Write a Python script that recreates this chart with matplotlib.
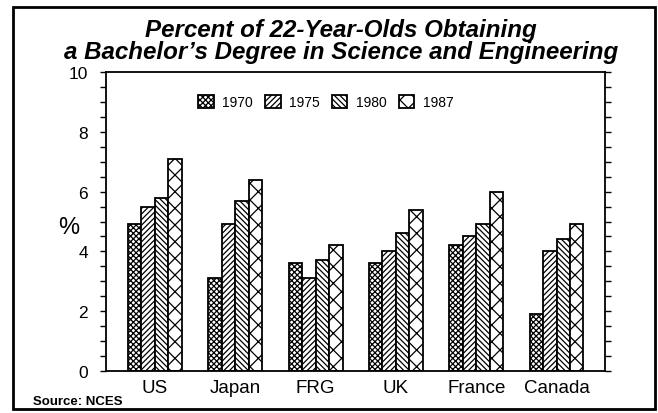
import numpy as np
import matplotlib.pyplot as plt
from matplotlib.patches import Rectangle

plt.rcParams['font.family'] = ['Liberation Sans', 'DejaVu Sans']
plt.rcParams['hatch.linewidth'] = 0.9

countries = ['US', 'Japan', 'FRG', 'UK', 'France', 'Canada']
years = ['1970', '1975', '1980', '1987']
pct_1970 = [4.9, 3.1, 3.6, 3.6, 4.2, 1.9]
pct_1975 = [5.5, 4.9, 3.1, 4.0, 4.5, 4.0]
pct_1980 = [5.8, 5.7, 3.7, 4.6, 4.9, 4.4]
pct_1987 = [7.1, 6.4, 4.2, 5.4, 6.0, 4.9]
series = [pct_1970, pct_1975, pct_1980, pct_1987]
hatches = ['xxxxxx', '//////', '\\\\\\\\\\\\', 'xx']

fig = plt.figure(figsize=(6.58, 4.14), dpi=100)
ax = fig.add_axes([0.161, 0.1014, 0.758, 0.7223])

x = np.arange(len(countries))
w = 0.168
for i, (vals, h, yr) in enumerate(zip(series, hatches, years)):
    ax.bar(x + (i - 1.5) * w, vals, w, color='white', edgecolor='black',
           linewidth=1.3, hatch=h, label=yr)

ax.set_xlim(-0.61, 5.6)
ax.set_ylim(0, 10)
ax.set_yticks(np.arange(0, 11, 2))
ax.set_yticks(np.arange(0, 10.01, 0.5), minor=True)
ax.set_xticks(x)
ax.set_xticklabels(countries, fontsize=13.5)
ax.tick_params(axis='x', length=0, pad=6)
ax.tick_params(axis='y', which='major', direction='out', length=4, width=1,
               right=True, labelsize=12.5, pad=9)
ax.tick_params(axis='y', which='minor', direction='out', length=4, width=1,
               right=True)
for s in ax.spines.values():
    s.set_linewidth(1.3)

ax.text(-0.074, 0.48, '%', transform=ax.transAxes, fontsize=17,
        ha='center', va='center')

leg = ax.legend(loc='upper center', bbox_to_anchor=(0.441, 0.965), ncol=4,
                frameon=False, fontsize=10, handlelength=1.1,
                handleheight=1.1, handletextpad=0.6, columnspacing=0.9)

fig.text(0.518, 0.9, 'Percent of 22-Year-Olds Obtaining\n'
         'a Bachelor\u2019s Degree in Science and Engineering',
         ha='center', va='center', fontsize=17.4, fontweight='bold',
         fontstyle='italic', linespacing=0.95)

fig.text(0.05, 0.03, 'Source: NCES', fontsize=9.5, fontweight='bold',
         ha='left', va='center')

# outer frame around the whole figure
fig.patches.append(Rectangle((0.02, 0.01), 0.975, 0.97, transform=fig.transFigure,
                             fill=False, edgecolor='black', linewidth=2))

fig.savefig('out.png', dpi=100)
